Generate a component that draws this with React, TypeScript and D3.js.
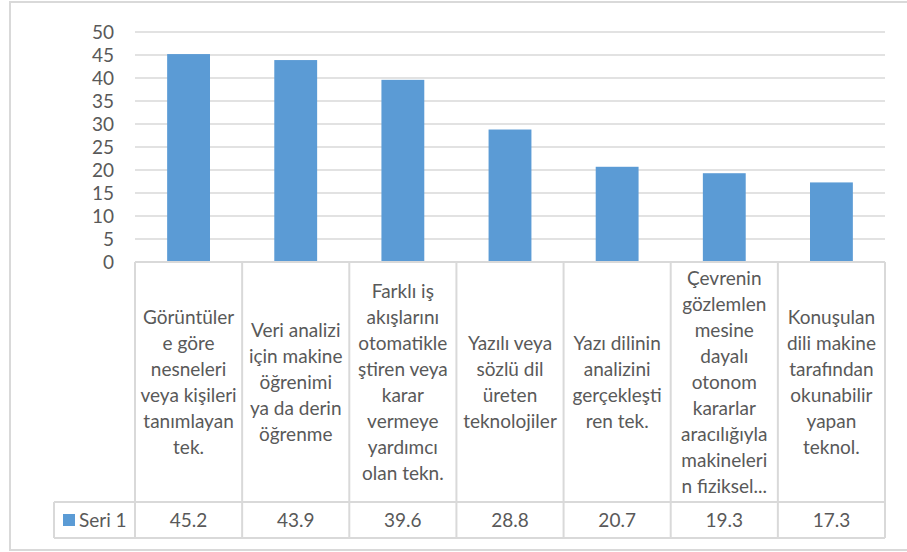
import React, { useEffect, useRef } from "react";
import { select, scaleBand, scaleLinear, range } from "d3";

// category labels, already wrapped the way the table cell shows them
const categories = [
  ["Görüntüler", "e göre", "nesneleri", "veya kişileri", "tanımlayan", "tek."],
  ["Veri analizi", "için makine", "öğrenimi", "ya da derin", "öğrenme"],
  ["Farklı iş", "akışlarını", "otomatikle", "ştiren veya", "karar", "vermeye", "yardımcı", "olan tekn."],
  ["Yazılı veya", "sözlü dil", "üreten", "teknolojiler"],
  ["Yazı dilinin", "analizini", "gerçekleşti", "ren tek."],
  ["Çevrenin", "gözlemlen", "mesine", "dayalı", "otonom", "kararlar", "aracılığıyla", "makineleri", "n fiziksel..."],
  ["Konuşulan", "dili makine", "tarafından", "okunabilir", "yapan", "teknol."],
];
const seriesName = "Seri 1";
const values = [45.2, 43.9, 39.6, 28.8, 20.7, 19.3, 17.3];
const yTicks = [0, 5, 10, 15, 20, 25, 30, 35, 40, 45, 50];

const W = 907;
const H = 552;
const FONT = "Lato, 'Open Sans', sans-serif";
const TEXT = "#595959";
const LINE = "#D9D9D9";
const BAR = "#5B9BD5";

export default function App() {
  const svgRef = useRef<SVGSVGElement | null>(null);

  useEffect(() => {
    const svg = select(svgRef.current);
    svg.selectAll("*").remove();

    const left = 135;
    const right = 885;
    const top = 32;
    const axisY = 262;
    const rowTop = 502;
    const rowBottom = 538;
    const legendLeft = 54;

    const x = scaleBand<number>()
      .domain(range(values.length))
      .range([left, right])
      .padding(0);
    const y = scaleLinear().domain([0, 50]).range([axisY, top]);

    // outer frame
    svg
      .append("rect")
      .attr("x", 10)
      .attr("y", 2)
      .attr("width", 910)
      .attr("height", 548)
      .attr("fill", "#fff")
      .attr("stroke", LINE)
      .attr("stroke-width", 2);

    // gridlines
    svg
      .append("g")
      .selectAll("line")
      .data(yTicks.filter((d) => d > 0))
      .join("line")
      .attr("x1", left)
      .attr("x2", right)
      .attr("y1", (d) => y(d))
      .attr("y2", (d) => y(d))
      .attr("stroke", LINE)
      .attr("stroke-width", 1.5);

    // y tick labels
    svg
      .append("g")
      .selectAll("text")
      .data(yTicks)
      .join("text")
      .attr("x", 114)
      .attr("y", (d) => y(d))
      .attr("dy", "0.35em")
      .attr("text-anchor", "end")
      .attr("font-family", FONT)
      .attr("font-size", 19)
      .attr("fill", TEXT)
      .text((d) => d);

    // bars
    const barW = x.bandwidth() * 0.4;
    svg
      .append("g")
      .selectAll("rect")
      .data(values)
      .join("rect")
      .attr("x", (_, i) => x(i)! + (x.bandwidth() - barW) / 2)
      .attr("y", (d) => y(d))
      .attr("width", barW)
      .attr("height", (d) => y(0) - y(d))
      .attr("fill", BAR);

    // data table lines
    const grid = svg
      .append("g")
      .attr("stroke", LINE)
      .attr("stroke-width", 2);
    [axisY].forEach((yy) =>
      grid.append("line").attr("x1", left).attr("x2", right).attr("y1", yy).attr("y2", yy)
    );
    [rowTop, rowBottom].forEach((yy) =>
      grid.append("line").attr("x1", legendLeft).attr("x2", right).attr("y1", yy).attr("y2", yy)
    );
    grid
      .selectAll("line.col")
      .data(range(values.length + 1))
      .join("line")
      .attr("class", "col")
      .attr("x1", (i) => left + i * x.bandwidth())
      .attr("x2", (i) => left + i * x.bandwidth())
      .attr("y1", axisY)
      .attr("y2", rowBottom);
    grid
      .append("line")
      .attr("x1", legendLeft)
      .attr("x2", legendLeft)
      .attr("y1", rowTop)
      .attr("y2", rowBottom);

    // category labels
    const lineH = 26;
    const midY = (axisY + rowTop) / 2;
    const labels = svg
      .append("g")
      .attr("font-family", FONT)
      .attr("font-size", 19)
      .attr("fill", TEXT)
      .attr("text-anchor", "middle");
    categories.forEach((lines, i) => {
      const cx = x(i)! + x.bandwidth() / 2;
      const y0 = midY - ((lines.length - 1) * lineH) / 2;
      labels
        .append("text")
        .selectAll("tspan")
        .data(lines)
        .join("tspan")
        .attr("x", cx)
        .attr("y", (_, j) => y0 + j * lineH)
        .attr("dy", "0.35em")
        .text((d) => d);
    });

    // values row
    const rowMid = (rowTop + rowBottom) / 2;
    svg
      .append("g")
      .selectAll("text")
      .data(values)
      .join("text")
      .attr("x", (_, i) => x(i)! + x.bandwidth() / 2)
      .attr("y", rowMid)
      .attr("dy", "0.35em")
      .attr("text-anchor", "middle")
      .attr("font-family", FONT)
      .attr("font-size", 19)
      .attr("fill", TEXT)
      .text((d) => d.toFixed(1));

    // legend key
    svg
      .append("rect")
      .attr("x", 63)
      .attr("y", rowMid - 6)
      .attr("width", 12)
      .attr("height", 12)
      .attr("fill", BAR);
    svg
      .append("text")
      .attr("x", 79)
      .attr("y", rowMid)
      .attr("dy", "0.35em")
      .attr("font-family", FONT)
      .attr("font-size", 19)
      .attr("fill", TEXT)
      .text(seriesName);
  }, []);

  return (
    <div style={{ position: "absolute", left: 0, top: 0, width: W, height: H, overflow: "hidden" }}>
      <svg ref={svgRef} width={W} height={H} style={{ display: "block" }}></svg>
    </div>
  );
}
